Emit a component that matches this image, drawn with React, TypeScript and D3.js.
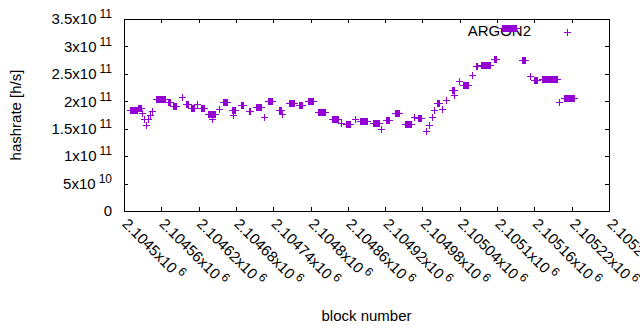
import React, { useEffect, useRef } from "react";
import * as d3 from "d3";

// Runs of consecutive blocks sharing one hashrate estimate (hashrate in GH/s)
const runStart = [
  2104510, 2104523, 2104529, 2104532, 2104535, 2104539, 2104542, 2104545, 2104551, 2104571,
  2104579, 2104593, 2104600, 2104608, 2104617, 2104624, 2104635, 2104641, 2104653, 2104659,
  2104674, 2104676, 2104688, 2104701, 2104712, 2104725, 2104732, 2104749, 2104754, 2104765,
  2104781, 2104796, 2104812, 2104834, 2104849, 2104857, 2104871, 2104879, 2104900, 2104913,
  2104921, 2104936, 2104952, 2104966, 2104973, 2104986, 2104990, 2104995, 2104998, 2105003,
  2105011, 2105018, 2105027, 2105030, 2105039, 2105045, 2105060, 2105066, 2105074, 2105095,
  2105108, 2105140, 2105153, 2105159, 2105172, 2105199, 2105208,
];
const runEnd = [
  2104521, 2104527, 2104529, 2104532, 2104535, 2104539, 2104542, 2104545, 2104566, 2104574,
  2104584, 2104593, 2104603, 2104613, 2104617, 2104629, 2104646, 2104641, 2104653, 2104666,
  2104678, 2104676, 2104691, 2104703, 2104720, 2104725, 2104738, 2104752, 2104754, 2104773,
  2104786, 2104804, 2104823, 2104844, 2104849, 2104863, 2104871, 2104891, 2104910, 2104913,
  2104926, 2104942, 2104961, 2104966, 2104978, 2104986, 2104990, 2104995, 2104998, 2105007,
  2105011, 2105018, 2105031, 2105030, 2105039, 2105053, 2105060, 2105068, 2105089, 2105098,
  2105130, 2105145, 2105153, 2105164, 2105196, 2105199, 2105224,
];
const runHashrate = [
  184.1, 187.8, 178.7, 167.7, 156.8, 167.7, 175.0, 182.3, 203.3, 198.7,
  191.4, 208.7, 195.0, 187.8, 195.0, 187.8, 177.7, 167.7, 186.0, 198.7,
  184.1, 175.0, 193.2, 182.3, 188.7, 171.4, 200.5, 184.1, 176.8, 196.9,
  194.1, 200.5, 180.5, 168.6, 160.4, 157.7, 167.7, 163.2, 161.3, 149.5,
  165.0, 178.7, 158.6, 171.4, 169.5, 145.8, 156.8, 171.4, 184.1, 196.0,
  186.0, 202.4, 220.6, 211.5, 236.1, 229.7, 248.8, 264.3, 266.2, 276.2,
  332.7, 275.3, 247.0, 239.7, 241.5, 199.6, 205.1,
];

const xTicks = [
  2104500, 2104560, 2104620, 2104680, 2104740, 2104800, 2104860, 2104920, 2104980,
  2105040, 2105100, 2105160, 2105220, 2105280,
];
const xTickMantissa = [
  "2.1045", "2.10456", "2.10462", "2.10468", "2.10474", "2.1048", "2.10486", "2.10492",
  "2.10498", "2.10504", "2.1051", "2.10516", "2.10522", "2.10528",
];
const yTicks = [0, 5e10, 1e11, 1.5e11, 2e11, 2.5e11, 3e11, 3.5e11];
const yTickMantissa = ["0", "5", "1", "1.5", "2", "2.5", "3", "3.5"];
const yTickExponent = ["", "10", "11", "11", "11", "11", "11", "11"];

const seriesName = "ARGON2";
const COLOR = "#9400d3";
const FONT = "'Liberation Sans', Arial, sans-serif";

export default function App() {
  const ref = useRef<SVGSVGElement>(null);

  useEffect(() => {
    const W = 640, H = 330;
    const L = 124, R = 609, T = 19, B = 211;
    const svg = d3.select(ref.current!);
    svg.selectAll("*").remove();

    const x = d3.scaleLinear().domain([2104500, 2105280]).range([L, R]);
    const y = d3.scaleLinear().domain([0, 3.5e11]).range([B, T]);

    svg.append("rect").attr("width", W).attr("height", H).attr("fill", "white");

    // ticks (inward, mirrored)
    const tl = 4;
    const tg = svg.append("g").attr("stroke", "black").attr("stroke-width", 1).attr("shape-rendering", "crispEdges");
    yTicks.forEach((t) => {
      const yy = Math.round(y(t)) + 0.5;
      tg.append("line").attr("x1", L).attr("x2", L + tl).attr("y1", yy).attr("y2", yy);
      tg.append("line").attr("x1", R - tl).attr("x2", R).attr("y1", yy).attr("y2", yy);
    });
    xTicks.forEach((t) => {
      const xx = Math.round(x(t)) + 0.5;
      tg.append("line").attr("x1", xx).attr("x2", xx).attr("y1", B).attr("y2", B - tl);
      tg.append("line").attr("x1", xx).attr("x2", xx).attr("y1", T).attr("y2", T + tl);
    });

    // y tick labels
    yTicks.forEach((t, i) => {
      const txt = svg.append("text")
        .attr("x", 112)
        .attr("y", y(t))
        .attr("dy", "0.35em")
        .attr("text-anchor", "end")
        .attr("font-family", FONT)
        .attr("font-size", 15)
        .attr("fill", "black");
      if (yTickExponent[i]) {
        txt.append("tspan").text(yTickMantissa[i] + "x10");
        txt.append("tspan").attr("dx", 3).attr("dy", -6).attr("font-size", 12).text(yTickExponent[i]);
      } else {
        txt.text(yTickMantissa[i]);
      }
    });

    // x tick labels rotated
    xTicks.forEach((t, i) => {
      const xx = x(t);
      const g = svg.append("g").attr("transform", `translate(${xx + 1},${B + 10}) rotate(45)`);
      const txt = g.append("text")
        .attr("x", 0)
        .attr("y", 0)
        .attr("dy", "0.35em")
        .attr("font-family", FONT)
        .attr("font-size", 15)
        .attr("fill", "black");
      txt.append("tspan").text(xTickMantissa[i] + "x10");
      txt.append("tspan").attr("dx", 3).attr("dy", -6).attr("font-size", 12).text("6");
    });

    // axis labels
    svg.append("text")
      .attr("transform", `translate(21,${(T + B) / 2}) rotate(-90)`)
      .attr("text-anchor", "middle")
      .attr("font-family", FONT)
      .attr("font-size", 15)
      .text("hashrate [h/s]");
    svg.append("text")
      .attr("x", (L + R) / 2)
      .attr("y", 321)
      .attr("text-anchor", "middle")
      .attr("font-family", FONT)
      .attr("font-size", 15)
      .text("block number");

    // legend
    svg.append("text")
      .attr("x", 531)
      .attr("y", 31)
      .attr("dy", "0.35em")
      .attr("text-anchor", "end")
      .attr("font-family", FONT)
      .attr("font-size", 15)
      .text(seriesName);

    const hs = 3.5;
    const plus = (cx: number, cy: number) => {
      const px = Math.round(cx) + 0.5, py = Math.round(cy) + 0.5;
      return `M${px - hs},${py}H${px + hs}M${px},${py - hs}V${py + hs}`;
    };

    let d = plus(567, 32);
    runStart.forEach((s, i) => {
      d3.range(s, runEnd[i] + 1).forEach((b) => {
        d += plus(x(b), y(runHashrate[i] * 1e9));
      });
    });
    svg.append("path")
      .attr("d", d)
      .attr("fill", "none")
      .attr("stroke", COLOR)
      .attr("stroke-width", 1)
      .attr("shape-rendering", "crispEdges");

    // border
    svg.append("rect")
      .attr("x", L + 0.5).attr("y", T + 0.5)
      .attr("width", R - L).attr("height", B - T)
      .attr("fill", "none").attr("stroke", "black").attr("stroke-width", 1)
      .attr("shape-rendering", "crispEdges");
  }, []);

  return (
    <svg
      ref={ref}
      width={640}
      height={330}
      style={{ position: "absolute", left: 0, top: 0, display: "block" }}
    />
  );
}
